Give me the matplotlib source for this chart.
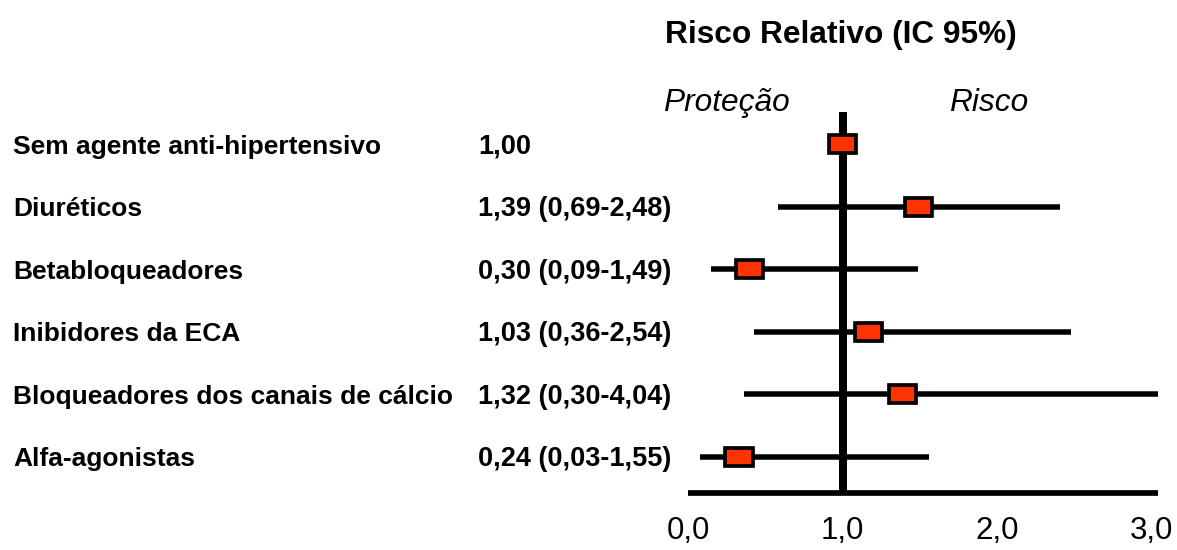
import matplotlib
matplotlib.use("Agg")
import matplotlib.pyplot as plt
import matplotlib.transforms as mtransforms
from matplotlib import font_manager
from matplotlib.patches import Rectangle
import numpy as np

# rows of the forest plot, top to bottom
categories = [
    "Sem agente anti-hipertensivo",
    "Diuréticos",
    "Betabloqueadores",
    "Inibidores da ECA",
    "Bloqueadores dos canais de cálcio",
    "Alfa-agonistas",
]
rr_text = [
    "1,00",
    "1,39 (0,69-2,48)",
    "0,30 (0,09-1,49)",
    "1,03 (0,36-2,54)",
    "1,32 (0,30-4,04)",
    "0,24 (0,03-1,55)",
]

# where the boxes and whiskers sit in the drawing
rr = [1.00, 1.49, 0.40, 1.17, 1.39, 0.33]
ci_low = [np.nan, 0.58, 0.15, 0.43, 0.36, 0.08]
ci_high = [np.nan, 2.41, 1.49, 2.48, 4.04, 1.56]

xticks = [0, 1, 2, 3]
xtick_labels = ["0,0", "1,0", "2,0", "3,0"]

W, H = 1177, 550
PX = 72 / 100  # points per pixel at dpi 100

plt.rcParams["font.family"] = ["Liberation Sans", "DejaVu Sans"]
names = {f.name for f in font_manager.fontManager.ttflist}
if "Liberation Sans Narrow" in names:
    tick_font, tick_size = "Liberation Sans Narrow", 25
else:
    tick_font, tick_size = "Liberation Sans", 22.5

fig = plt.figure(figsize=(W / 100, H / 100), dpi=100)

# axes box in pixels: x 688..1157.7, y 112..492.8
ax = fig.add_axes([688 / W, 1 - 492.8 / H, (1157.7 - 688) / W, (492.8 - 112) / H])
ax.set_xlim(0, 3.04)
ax.set_ylim(5.577, -0.512)

for side in ["top", "right", "left"]:
    ax.spines[side].set_visible(False)
ax.spines["bottom"].set_linewidth(5.7 * PX)
ax.spines["bottom"].set_capstyle("butt")
ax.set_yticks([])
ax.set_xticks(xticks, xtick_labels)
ax.tick_params(axis="x", length=0, pad=17)
for lab in ax.get_xticklabels():
    lab.set_fontfamily(tick_font)
    lab.set_fontsize(tick_size)

ys = np.arange(len(categories))

# line of no effect
ax.plot([1, 1], [-0.512, 5.577], color="black", lw=8 * PX,
        solid_capstyle="butt", clip_on=False, zorder=2)

# confidence intervals
for y, lo, hi in zip(ys, ci_low, ci_high):
    if np.isnan(lo):
        continue
    ax.plot([lo, hi], [y, y], color="black", lw=5.5 * PX,
            solid_capstyle="butt", zorder=2)

# point estimates as red boxes
bw, bh = 0.177, 0.288
for y, x in zip(ys, rr):
    ax.add_patch(Rectangle((x - bw / 2, y - bh / 2), bw, bh,
                           facecolor="#FF3300", edgecolor="black",
                           lw=3.7 * PX, zorder=3))

# text columns on the left
trans = mtransforms.blended_transform_factory(fig.transFigure, ax.transData)
trans = mtransforms.offset_copy(trans, fig=fig, y=-9.5, units="dots")
for y, name, val in zip(ys, categories, rr_text):
    ax.text(13 / W, y, name, transform=trans, ha="left", va="baseline",
            fontsize=19, fontweight="bold")
    ax.text(478 / W, y, val, transform=trans, ha="left", va="baseline",
            fontsize=19.5, fontweight="bold")

fig.text(841 / W, 1 - 43 / H, "Risco Relativo (IC 95%)", ha="center",
         va="baseline", fontsize=22.8, fontweight="bold")
fig.text(663 / W, 1 - 111 / H, "Proteção", ha="left", va="baseline",
         fontsize=22.8, fontstyle="italic")
fig.text(949 / W, 1 - 111 / H, "Risco", ha="left", va="baseline",
         fontsize=22.8, fontstyle="italic")

fig.savefig("out.png", dpi=100)
